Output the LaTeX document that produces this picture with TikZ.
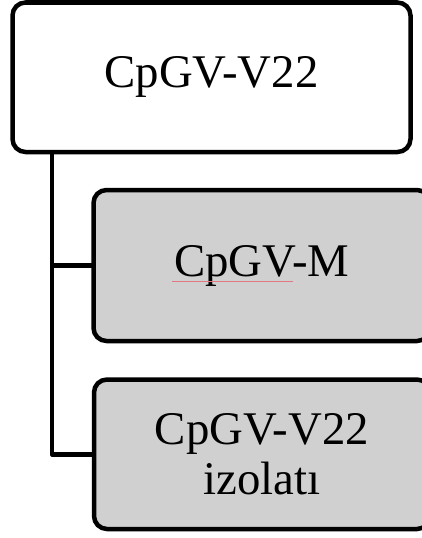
\documentclass[tikz,border=0pt]{standalone}
\usepackage{fontspec}
\setmainfont{Liberation Serif}
\definecolor{boxgray}{RGB}{208,208,208}
\definecolor{spellred}{RGB}{225,120,130}
\tikzset{
  card/.style={draw=black, line width=4.5pt, rounded corners=13pt, align=center,
    inner sep=0pt, outer sep=0pt, font=\fontsize{46.8}{50}\selectfont},
  topcard/.style={card, fill=white},
  subcard/.style={card, fill=boxgray},
  link/.style={draw=black, line width=4.5pt, line join=round}
}
\begin{document}
\begin{tikzpicture}[x=1pt,y=1pt]
\path[use as bounding box, clip] (0,0) rectangle (422,-538);
\fill[white] (0,0) rectangle (422,-538);
\node[topcard, minimum width=398pt, minimum height=149.5pt] (top) at (211.5,-77.25) {CpGV-V22};
\node[subcard, minimum width=336.5pt, minimum height=151pt] (g1) at (261.75,-265.5) {CpGV-M};
\node[subcard, minimum width=336pt, minimum height=149.5pt] (g2) at (262,-454.25) {CpGV-V22\\izolatı};
\coordinate (trunk) at (52,-152);
\draw[link] (top.south -| trunk) |- (g2.west);
\draw[link] (trunk |- g1.west) -- (g1.west);
\draw[spellred, line width=0.7pt] (172,-281) -- (293,-281);
\end{tikzpicture}
\end{document}
